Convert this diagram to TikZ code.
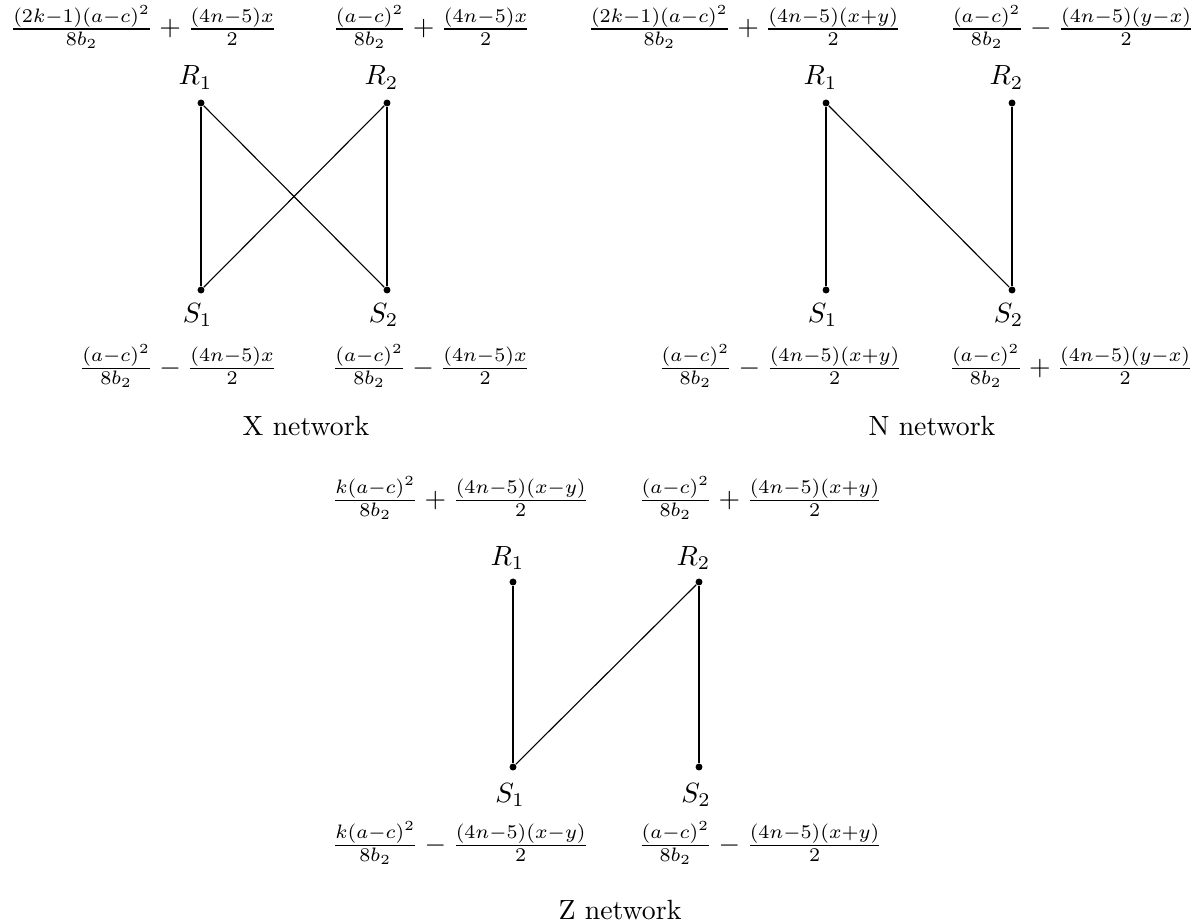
\documentclass[tikz,border=0pt]{standalone}
\begin{document}
\begin{tikzpicture}[x=0.36pt,y=-0.36pt]
\tikzset{
  dot/.style={circle,fill=black,inner sep=0pt,minimum size=2.5pt},
  lbl/.style={inner sep=0pt,anchor=base},
  fml/.style={inner sep=0pt,anchor=base},
  captxt/.style={inner sep=0pt,anchor=base},
  link/.style={draw=black,line width=0.4pt}
}
\useasboundingbox (0,0) rectangle (1202,921);

% ---------- X network ----------
\node[fml] (xtl) at (143.5,36) {$\frac{(2k-1)(a-c)^2}{8b_2}+\frac{(4n-5)x}{2}$};
\node[fml] (xtr) at (431.5,36) {$\frac{(a-c)^2}{8b_2}+\frac{(4n-5)x}{2}$};
\node[fml] (xbl) at (178,375) {$\frac{(a-c)^2}{8b_2}-\frac{(4n-5)x}{2}$};
\node[fml] (xbr) at (431,375) {$\frac{(a-c)^2}{8b_2}-\frac{(4n-5)x}{2}$};
\node[dot] (xr1) at (201,103) {};
\node[dot] (xr2) at (387,103) {};
\node[dot] (xs1) at (201,290) {};
\node[dot] (xs2) at (387,290) {};
\node[lbl] (xr1l) at (195.5,85) {$R_1$};
\node[lbl] (xr2l) at (381.5,85) {$R_2$};
\node[lbl] (xs1l) at (197.5,322.5) {$S_1$};
\node[lbl] (xs2l) at (383.5,322.5) {$S_2$};
\draw[link] (xr1) -- (xs1);
\draw[link] (xr1) -- (xs2);
\draw[link] (xr2) -- (xs1);
\draw[link] (xr2) -- (xs2);
\node[captxt] (xcap) at (306,435) {X network};

% ---------- N network ----------
\node[fml] (ntl) at (744.5,36) {$\frac{(2k-1)(a-c)^2}{8b_2}+\frac{(4n-5)(x+y)}{2}$};
\node[fml] (ntr) at (1072,36) {$\frac{(a-c)^2}{8b_2}-\frac{(4n-5)(y-x)}{2}$};
\node[fml] (nbl) at (780.5,375) {$\frac{(a-c)^2}{8b_2}-\frac{(4n-5)(x+y)}{2}$};
\node[fml] (nbr) at (1071,375) {$\frac{(a-c)^2}{8b_2}+\frac{(4n-5)(y-x)}{2}$};
\node[dot] (nr1) at (826,103) {};
\node[dot] (nr2) at (1012,103) {};
\node[dot] (ns1) at (826,290) {};
\node[dot] (ns2) at (1012,290) {};
\node[lbl] (nr1l) at (820.5,85) {$R_1$};
\node[lbl] (nr2l) at (1006.5,85) {$R_2$};
\node[lbl] (ns1l) at (822.5,322.5) {$S_1$};
\node[lbl] (ns2l) at (1008.5,322.5) {$S_2$};
\draw[link] (nr1) -- (ns1);
\draw[link] (nr1) -- (ns2);
\draw[link] (nr2) -- (ns2);
\node[captxt] (ncap) at (932,435) {N network};

% ---------- Z network ----------
\node[fml] (ztl) at (460.5,507) {$\frac{k(a-c)^2}{8b_2}+\frac{(4n-5)(x-y)}{2}$};
\node[fml] (ztr) at (760.5,507) {$\frac{(a-c)^2}{8b_2}+\frac{(4n-5)(x+y)}{2}$};
\node[fml] (zbl) at (460.5,852) {$\frac{k(a-c)^2}{8b_2}-\frac{(4n-5)(x-y)}{2}$};
\node[fml] (zbr) at (760.5,852) {$\frac{(a-c)^2}{8b_2}-\frac{(4n-5)(x+y)}{2}$};
\node[dot] (zr1) at (513,582) {};
\node[dot] (zr2) at (699,582) {};
\node[dot] (zs1) at (513,767) {};
\node[dot] (zs2) at (699,767) {};
\node[lbl] (zr1l) at (507.5,565.5) {$R_1$};
\node[lbl] (zr2l) at (693.5,565.5) {$R_2$};
\node[lbl] (zs1l) at (510,802) {$S_1$};
\node[lbl] (zs2l) at (696,802) {$S_2$};
\draw[link] (zr1) -- (zs1);
\draw[link] (zr2) -- (zs1);
\draw[link] (zr2) -- (zs2);
\node[captxt] (zcap) at (620,919.5) {Z network};
\end{tikzpicture}
\end{document}
